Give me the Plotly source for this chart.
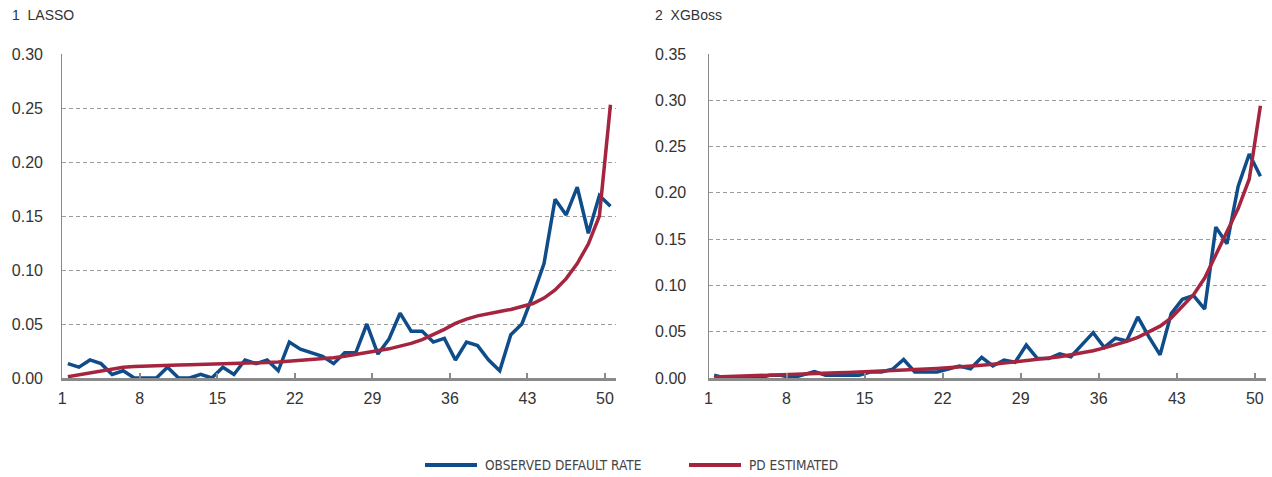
import plotly.graph_objects as go

# Rating-grade buckets 1..50
buckets = list(range(1, 51))
tick_labels = [1, 8, 15, 22, 29, 36, 43, 50]

# LASSO model
lasso_observed = [
    0.0133, 0.0100, 0.0167, 0.0133, 0.0033, 0.0067, 0.0000, 0.0000, 0.0000, 0.0100,
    0.0000, 0.0000, 0.0033, 0.0000, 0.0100, 0.0033, 0.0167, 0.0133, 0.0167, 0.0067,
    0.0333, 0.0267, 0.0233, 0.0200, 0.0133, 0.0233, 0.0233, 0.0500, 0.0222, 0.0360,
    0.0600, 0.0433, 0.0433, 0.0333, 0.0367, 0.0167, 0.0333, 0.0300, 0.0167, 0.0067,
    0.0400, 0.0500, 0.0767, 0.1060, 0.1655, 0.1510, 0.1767, 0.1340, 0.1690, 0.1590,
]
lasso_pd = [
    0.0012, 0.0030, 0.0050, 0.0070, 0.0088, 0.0100, 0.0107, 0.0112, 0.0116, 0.0119,
    0.0121, 0.0123, 0.0125, 0.0128, 0.0130, 0.0133, 0.0136, 0.0139, 0.0143, 0.0148,
    0.0155, 0.0163, 0.0170, 0.0177, 0.0188, 0.0202, 0.0218, 0.0235, 0.0250, 0.0270,
    0.0295, 0.0320, 0.0355, 0.0400, 0.0450, 0.0505, 0.0545, 0.0575, 0.0598, 0.0615,
    0.0635, 0.0660, 0.0690, 0.0740, 0.0815, 0.0920, 0.1060, 0.1240, 0.1500, 0.2530,
]

# XGBoost model
xgb_observed = [
    0.0030, 0.0000, 0.0000, 0.0000, 0.0000, 0.0030, 0.0030, 0.0000, 0.0035, 0.0070,
    0.0030, 0.0030, 0.0030, 0.0030, 0.0065, 0.0065, 0.0095, 0.0200, 0.0065, 0.0065,
    0.0065, 0.0097, 0.0130, 0.0100, 0.0223, 0.0130, 0.0194, 0.0170, 0.0356, 0.0210,
    0.0210, 0.0260, 0.0230, 0.0360, 0.0490, 0.0330, 0.0430, 0.0400, 0.0660, 0.0445,
    0.0250, 0.0695, 0.0850, 0.0890, 0.0745, 0.1630, 0.1450, 0.2070, 0.2420, 0.2180,
]
xgb_pd = [
    0.0010, 0.0015, 0.0020, 0.0025, 0.0030, 0.0033, 0.0036, 0.0040, 0.0044, 0.0048,
    0.0052, 0.0056, 0.0060, 0.0064, 0.0068, 0.0073, 0.0078, 0.0084, 0.0090, 0.0096,
    0.0103, 0.0110, 0.0118, 0.0127, 0.0137, 0.0148, 0.0160, 0.0175, 0.0190, 0.0202,
    0.0215, 0.0230, 0.0250, 0.0270, 0.0295, 0.0325, 0.0360, 0.0395, 0.0440, 0.0495,
    0.0560, 0.0650, 0.0770, 0.0900, 0.1080, 0.1330, 0.1580, 0.1830, 0.2150, 0.2940,
]

BLUE = "#0F4C8A"
RED = "#A5253F"
GRID = "#9c9c9c"
AXIS = "#8a8a8a"
TEXT = "#333333"
W, H = 1272, 477
FONT = "Liberation Sans, Arial, sans-serif"

fig = go.Figure()

panels = [
    ("x", "y", lasso_observed, lasso_pd),
    ("x2", "y2", xgb_observed, xgb_pd),
]
for xa, ya, obs, pd_est in panels:
    fig.add_trace(go.Scatter(x=buckets, y=obs, mode="lines", xaxis=xa, yaxis=ya,
                             line=dict(color=BLUE, width=3.5), showlegend=False,
                             name="OBSERVED DEFAULT RATE"))
    fig.add_trace(go.Scatter(x=buckets, y=pd_est, mode="lines", xaxis=xa, yaxis=ya,
                             line=dict(color=RED, width=3.5), showlegend=False,
                             name="PD ESTIMATED"))

# plot rows: value 0 sits 378px from the top, the top gridline 54px from the top
y_dom = [(H - 378) / H, (H - 54) / H]

def xaxis_cfg(domain, anchor):
    return dict(
        domain=domain, anchor=anchor, range=[0.5, 50.5], showgrid=False, zeroline=False,
        tickvals=[t - 0.5 for t in tick_labels], ticktext=[str(t) for t in tick_labels],
        ticks="inside", ticklen=5, tickwidth=1.5, tickcolor=AXIS,
        showline=True, linecolor=AXIS, linewidth=2.5,
        tickfont=dict(family=FONT, size=16, color=TEXT),
        ticklabelstandoff=4, fixedrange=True, automargin=False,
    )

def yaxis_cfg(anchor, top, standoff):
    return dict(
        domain=y_dom, anchor=anchor, range=[0, top], dtick=0.05, tickformat=".2f",
        showgrid=True, gridcolor=GRID, gridwidth=1, griddash="4px,3px",
        zeroline=False, showline=True, linecolor=AXIS, linewidth=1.2, ticks="",
        tickfont=dict(family=FONT, size=16, color=TEXT),
        ticklabelstandoff=standoff, fixedrange=True, automargin=False,
    )

fig.update_layout(
    template="none", autosize=False,
    width=W, height=H, margin=dict(l=0, r=0, t=0, b=0, pad=0),
    paper_bgcolor="white", plot_bgcolor="white",
    xaxis=xaxis_cfg([62.3 / W, 616 / W], "y"),
    yaxis=yaxis_cfg("x", 0.30, 15),
    xaxis2=xaxis_cfg([708.5 / W, 1266 / W], "y2"),
    yaxis2=yaxis_cfg("x2", 0.35, 18),
)

# Panel titles
for px, label in [(10, "1\u00a0\u00a0LASSO"), (653, "2\u00a0\u00a0XGBoss")]:
    fig.add_annotation(x=px / W, y=(H - 15) / H, xref="paper", yref="paper",
                       text=label, showarrow=False, xanchor="left", yanchor="middle",
                       font=dict(family=FONT, size=14, color=TEXT))

# Shared legend below the panels
legend_font = dict(family="Liberation Sans Narrow, Arial Narrow, DejaVu Sans Condensed, sans-serif",
                   size=13.5, color="#444444")
ly = (H - 465) / H
for x0, x1, color, label in [(425, 477, BLUE, "OBSERVED DEFAULT RATE"),
                              (689, 741, RED, "PD ESTIMATED")]:
    fig.add_shape(type="line", xref="paper", yref="paper", x0=x0 / W, x1=x1 / W,
                  y0=ly, y1=ly, line=dict(color=color, width=4))
    fig.add_annotation(x=(x1 + 6) / W, y=ly, xref="paper", yref="paper", text=label,
                       showarrow=False, xanchor="left", yanchor="middle", font=legend_font)

fig.write_html("out.html", config={"responsive": False, "displayModeBar": False})
